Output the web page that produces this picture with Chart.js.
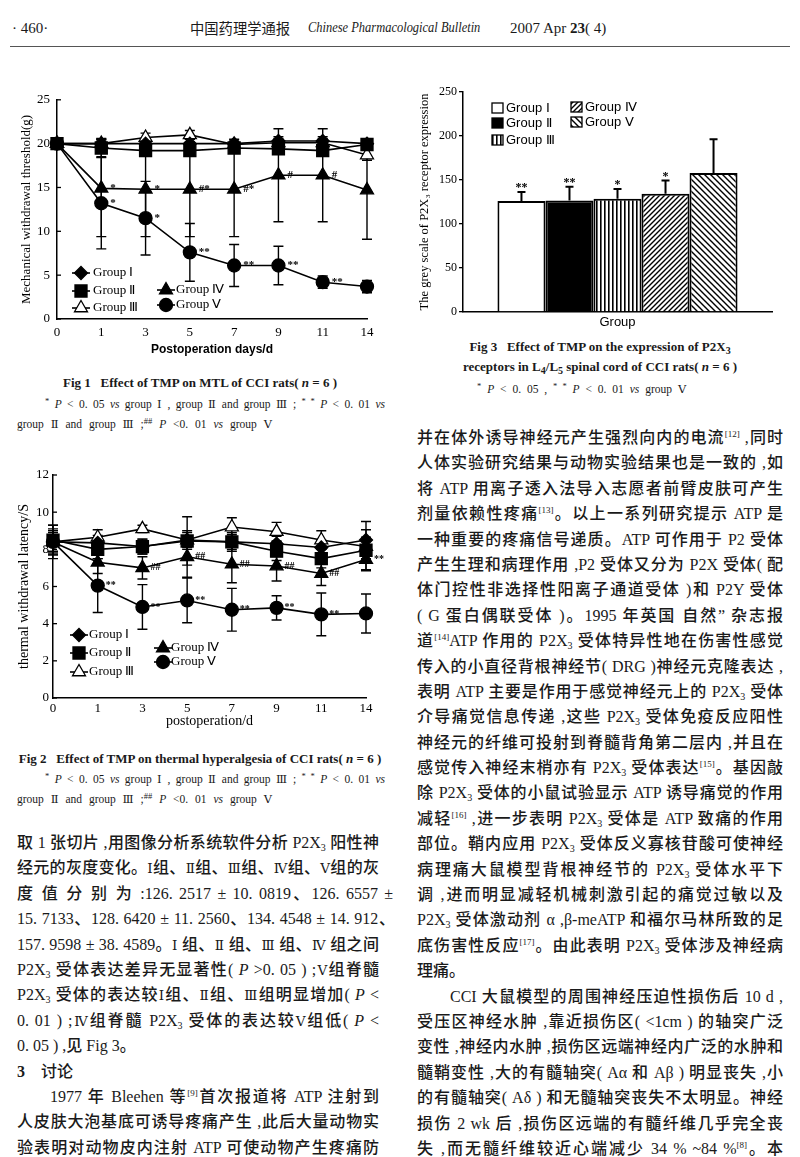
<!DOCTYPE html>
<html><head><meta charset="utf-8">
<script src="https://cdn.jsdelivr.net/npm/chart.js@4/dist/chart.umd.min.js"></script>
<style>
html,body{margin:0;padding:0;background:#fff;}
body{width:800px;height:1157px;position:relative;overflow:hidden;font-family:"Liberation Serif","Noto Sans CJK SC",serif;color:#1a1a1a;}
.abs{position:absolute;white-space:nowrap;}
canvas{position:absolute;}
.col{position:absolute;font-size:16px;line-height:25.4px;font-weight:500;}
.col div{height:25.4px;white-space:nowrap;text-align:justify;text-align-last:justify;}
.col div.l{text-align:left;text-align-last:left;}
.col div.ind{padding-left:33px;}
.rn{font-family:"DejaVu Serif","DejaVu Sans","Liberation Serif";font-size:0.85em;}
sup{font-size:9px;position:relative;top:-6px;vertical-align:baseline;line-height:0;}
sub{font-size:10px;position:relative;top:3px;vertical-align:baseline;line-height:0;}
.cap{position:absolute;line-height:16px;white-space:nowrap;}
.capb{font-weight:bold;font-size:13px;text-align:center;}
.fn{font-size:11.5px;word-spacing:2px;}
.fn .rn{font-size:1em;}
.fn sup{font-size:8.5px;top:-4px;}
.just{text-align:justify;text-align-last:justify;}
</style>
</head><body>

<div class="abs" style="left:12px;top:19px;font-size:15px;line-height:18px;">·&nbsp;460·</div>
<div class="abs" style="left:190px;top:19px;font-size:14.3px;line-height:18px;font-family:'Noto Sans CJK SC';">中国药理学通报</div>
<div class="abs" style="left:308px;top:19px;font-size:14px;line-height:18px;transform:scaleX(0.89);transform-origin:0 50%;"><i>Chinese Pharmacological Bulletin</i></div>
<div class="abs" style="left:510px;top:19px;font-size:15px;line-height:18px;">2007 Apr <b>23</b>( 4)</div>
<div class="abs" style="left:10px;top:46px;width:780px;height:1px;background:#555;"></div>

<canvas id="c1" width="400" height="272" style="left:0px;top:85px;"></canvas>
<canvas id="c3" width="400" height="252" style="left:400px;top:80px;"></canvas>
<canvas id="c2" width="400" height="268" style="left:0px;top:462px;"></canvas>

<div class="cap capb" style="left:0;width:400px;top:375px;">Fig 1&nbsp;&nbsp;&nbsp;Effect of TMP on MTL of CCI rats( <i>n</i> = 6 )</div>
<div class="cap fn just" style="left:45px;width:340px;top:396px;"><sup>*</sup> <i>P</i> &lt; 0. 05 <i>vs</i> group <span class="rn">Ⅰ</span> , group <span class="rn">Ⅱ</span> and group <span class="rn">Ⅲ</span> ; <sup>* *</sup> <i>P</i> &lt; 0. 01 <i>vs</i></div>
<div class="cap fn" style="left:17px;top:416px;word-spacing:4px;">group <span class="rn">Ⅱ</span> and group <span class="rn">Ⅲ</span> ;<sup>##</sup> <i>P</i> &lt;0. 01 <i>vs</i> group <span class="rn">Ⅴ</span></div>

<div class="cap capb" style="left:0;width:400px;top:751px;">Fig 2&nbsp;&nbsp;&nbsp;Effect of TMP on thermal hyperalgesia of CCI rats( <i>n</i> = 6 )</div>
<div class="cap fn just" style="left:45px;width:340px;top:771px;"><sup>*</sup> <i>P</i> &lt; 0. 05 <i>vs</i> group <span class="rn">Ⅰ</span> , group <span class="rn">Ⅱ</span> and group <span class="rn">Ⅲ</span> ; <sup>* *</sup> <i>P</i> &lt; 0. 01 <i>vs</i></div>
<div class="cap fn" style="left:17px;top:791px;word-spacing:4px;">group <span class="rn">Ⅱ</span> and group <span class="rn">Ⅲ</span> ;<sup>##</sup> <i>P</i> &lt;0. 01 <i>vs</i> group <span class="rn">Ⅴ</span></div>

<div class="cap capb" style="left:400px;width:400px;top:339px;">Fig 3&nbsp;&nbsp;&nbsp;Effect of TMP on the expression of P2X<sub>3</sub></div>
<div class="cap capb" style="left:400px;width:400px;top:359px;">receptors in L<sub>4</sub>/L<sub>5</sub> spinal cord of CCI rats( <i>n</i> = 6 )</div>
<div class="cap fn" style="left:477px;top:381px;word-spacing:3px;"><sup>*</sup> <i>P</i> &lt; 0. 05 , <sup>* *</sup> <i>P</i> &lt; 0. 01 <i>vs</i> group <span class="rn">Ⅴ</span></div>

<div class="col" style="left:417px;width:366px;top:425px;">
<div>并在体外诱导神经元产生强烈向内的电流<sup>[12]</sup> ,同时</div>
<div>人体实验研究结果与动物实验结果也是一致的 ,如</div>
<div>将 ATP 用离子透入法导入志愿者前臂皮肤可产生</div>
<div>剂量依赖性疼痛<sup>[13]</sup>。以上一系列研究提示 ATP 是</div>
<div>一种重要的疼痛信号递质。ATP 可作用于 P2 受体</div>
<div>产生生理和病理作用 ,P2 受体又分为 P2X 受体( 配</div>
<div>体门控性非选择性阳离子通道受体 )和 P2Y 受体</div>
<div>( G 蛋白偶联受体 )。1995 年英国 自然” 杂志报</div>
<div>道<sup>[14]</sup>ATP 作用的 P2X<sub>3</sub> 受体特异性地在伤害性感觉</div>
<div>传入的小直径背根神经节( DRG )神经元克隆表达 ,</div>
<div>表明 ATP 主要是作用于感觉神经元上的 P2X<sub>3</sub> 受体</div>
<div>介导痛觉信息传递 ,这些 P2X<sub>3</sub> 受体免疫反应阳性</div>
<div>神经元的纤维可投射到脊髓背角第二层内 ,并且在</div>
<div>感觉传入神经末梢亦有 P2X<sub>3</sub> 受体表达<sup>[15]</sup>。基因敲</div>
<div>除 P2X<sub>3</sub> 受体的小鼠试验显示 ATP 诱导痛觉的作用</div>
<div>减轻<sup>[16]</sup> ,进一步表明 P2X<sub>3</sub> 受体是 ATP 致痛的作用</div>
<div>部位。鞘内应用 P2X<sub>3</sub> 受体反义寡核苷酸可使神经</div>
<div>病理痛大鼠模型背根神经节的 P2X<sub>3</sub> 受体水平下</div>
<div>调 ,进而明显减轻机械刺激引起的痛觉过敏以及</div>
<div>P2X<sub>3</sub> 受体激动剂 α ,β-meATP 和福尔马林所致的足</div>
<div>底伤害性反应<sup>[17]</sup>。由此表明 P2X<sub>3</sub> 受体涉及神经病</div>
<div class="l">理痛。</div>
<div class="ind">CCI 大鼠模型的周围神经压迫性损伤后 10 d ,</div>
<div>受压区神经水肿 ,靠近损伤区( &lt;1cm ) 的轴突广泛</div>
<div>变性 ,神经内水肿 ,损伤区远端神经内广泛的水肿和</div>
<div>髓鞘变性 ,大的有髓轴突( Aα 和 Aβ ) 明显丧失 ,小</div>
<div>的有髓轴突( Aδ ) 和无髓轴突丧失不太明显。神经</div>
<div>损伤 2 wk 后 ,损伤区远端的有髓纤维几乎完全丧</div>
<div>失 ,而无髓纤维较近心端减少 34 % ~84 %<sup>[8]</sup>。本</div>
</div>

<div class="col" style="left:17px;width:362px;top:830px;">
<div>取 1 张切片 ,用图像分析系统软件分析 P2X<sub>3</sub> 阳性神</div>
<div>经元的灰度变化。<span class="rn">Ⅰ</span>组、<span class="rn">Ⅱ</span>组、<span class="rn">Ⅲ</span>组、<span class="rn">Ⅳ</span>组、<span class="rn">Ⅴ</span>组的灰</div>
<div style="width:376px">度 值 分 别 为 :126. 2517 ± 10. 0819、126. 6557 ±</div>
<div style="width:378px">15. 7133、128. 6420 ± 11. 2560、134. 4548 ± 14. 912、</div>
<div>157. 9598 ± 38. 4589。<span class="rn">Ⅰ</span> 组、<span class="rn">Ⅱ</span> 组、<span class="rn">Ⅲ</span> 组、<span class="rn">Ⅳ</span> 组之间</div>
<div>P2X<sub>3</sub> 受体表达差异无显著性( <i>P</i> &gt;0. 05 ) ;<span class="rn">Ⅴ</span>组脊髓</div>
<div>P2X<sub>3</sub> 受体的表达较<span class="rn">Ⅰ</span>组、<span class="rn">Ⅱ</span>组、<span class="rn">Ⅲ</span>组明显增加( <i>P</i> &lt;</div>
<div>0. 01 ) ;<span class="rn">Ⅳ</span>组脊髓 P2X<sub>3</sub> 受体的表达较<span class="rn">Ⅴ</span>组低( <i>P</i> &lt;</div>
<div class="l">0. 05 ) ,见 Fig 3。</div>
<div class="l"><b>3</b>&nbsp;&nbsp;&nbsp;&nbsp;讨论</div>
<div class="ind">1977 年 Bleehen 等<sup>[9]</sup>首次报道将 ATP 注射到</div>
<div>人皮肤大泡基底可诱导疼痛产生 ,此后大量动物实</div>
<div>验表明对动物皮内注射 ATP 可使动物产生疼痛防</div>
</div>

<script>
// ---------------- DATA ----------------
const dayLabels = ['0', '1', '3', '5', '7', '9', '11', '14'];
const groupNames = ['Group Ⅰ', 'Group Ⅱ', 'Group Ⅲ', 'Group Ⅳ', 'Group Ⅴ'];

// Fig 1: mechanical withdrawal threshold (g)
const mtlI   = [20, 20, 20, 20, 20, 20.3, 20.3, 20];
const mtlII  = [20, 19.5, 19.2, 19.2, 19.5, 19.4, 19.2, 19.9];
const mtlIII = [20, 20, 20.7, 21, 19.9, 20.1, 20.1, 18.7];
const mtlIV  = [20, 14.9, 14.8, 14.8, 14.8, 16.4, 16.4, 14.7];
const mtlV   = [20, 13.2, 11.5, 7.6, 6.1, 6.1, 4.2, 3.7];
const mtlIErr   = [0, 0.6, 0.5, 0.5, 0.5, 0.5, 0.5, 0.4];
const mtlIIErr  = [0, 1.0, 0.6, 0.6, 0.6, 0.6, 0.6, 0.4];
const mtlIIIErr = [0, 0.5, 0.5, 0.5, 0.5, 0.5, 0.5, 0.6];
const mtlIVErr  = [0, 5.5, 5.4, 5.4, 5.4, 5.3, 5.3, 5.6];
const mtlVErr   = [0, 5.2, 4.2, 3.3, 2.4, 2.2, 0.7, 0.7];
const mtlIVMarks = ['', '*', '*', '#*', '#*', '#', '#', ''];
const mtlVMarks  = ['', '*', '*', '**', '**', '**', '**', ''];

// Fig 2: thermal withdrawal latency (s)
const twlI   = [8.4, 8.35, 8.15, 8.5, 8.4, 8.3, 8.1, 8.5];
const twlII  = [8.5, 8.0, 8.15, 8.45, 8.4, 7.9, 7.5, 7.95];
const twlIII = [8.4, 8.65, 9.1, 8.5, 9.2, 8.95, 8.5, 8.15];
const twlIV  = [8.4, 7.3, 7.0, 7.6, 7.2, 7.1, 6.7, 7.45];
const twlV   = [8.4, 6.05, 4.9, 5.25, 4.75, 4.85, 4.5, 4.55];
const twlIErr   = [0.9, 0.4, 0.4, 0.5, 0.4, 0.4, 0.4, 1.0];
const twlIIErr  = [0.8, 0.5, 0.4, 1.3, 0.5, 0.5, 0.5, 1.1];
const twlIIIErr = [0.7, 0.4, 0.2, 0.4, 0.5, 0.5, 0.5, 0.5];
const twlIVErr  = [0.5, 0.6, 0.6, 1.1, 1.0, 0.8, 0.65, 0.55];
const twlVErr   = [0.6, 1.45, 1.2, 1.2, 1.15, 0.65, 1.15, 1.05];
const twlIVMarks = ['', '', '##', '##', '##', '##', '##', '**'];
const twlVMarks  = ['', '**', '**', '**', '**', '**', '**', ''];

// Fig 3: grey scale of P2X3 receptor expression
const barCategory = ['Group'];
const p2x3Means = [126.2517, 126.6557, 128.6420, 134.4548, 157.9598];
const p2x3SD    = [10.0819, 15.7133, 11.2560, 14.912, 38.4589];
const p2x3Marks = ['**', '**', '*', '*', ''];

// ---------------- STYLES ----------------
const lineStyles = [
  {pointStyle: 'rectRot', radius: 6.5, bg: '#000'},
  {pointStyle: 'rect', radius: 8.5, bg: '#000'},
  {pointStyle: 'triangle', radius: 7.5, bg: '#fff'},
  {pointStyle: 'triangle', radius: 7.5, bg: '#000'},
  {pointStyle: 'circle', radius: 6.5, bg: '#000'}
];

function buildLines(vals, errs, marks) {
  return vals.map((v, i) => ({
    label: groupNames[i],
    data: v,
    errors: errs[i],
    marks: marks[i],
    borderColor: '#000',
    borderWidth: 1.6,
    pointStyle: lineStyles[i].pointStyle,
    pointRadius: lineStyles[i].radius,
    pointBackgroundColor: lineStyles[i].bg,
    pointBorderColor: '#000',
    pointBorderWidth: 1.3,
    tension: 0,
    fill: false
  }));
}

function makePattern(kind) {
  const s = kind === 'v' ? 4 : (kind === 'f' ? 5 : 6);
  const c = document.createElement('canvas');
  c.width = s; c.height = s;
  const g = c.getContext('2d');
  g.fillStyle = '#fff'; g.fillRect(0, 0, s, s);
  g.strokeStyle = '#000'; g.fillStyle = '#000'; g.lineWidth = 1.4;
  if (kind === 'v') {
    g.fillRect(0, 0, 1.6, s);
  } else if (kind === 'f') {
    g.beginPath();
    g.moveTo(-1, s + 1); g.lineTo(s + 1, -1);
    g.moveTo(-1, 1); g.lineTo(1, -1);
    g.moveTo(s - 1, s + 1); g.lineTo(s + 1, s - 1);
    g.stroke();
  } else {
    g.beginPath();
    g.moveTo(-1, -1); g.lineTo(s + 1, s + 1);
    g.moveTo(s - 1, -1); g.lineTo(s + 1, 1);
    g.moveTo(-1, s - 1); g.lineTo(1, s + 1);
    g.stroke();
  }
  return g.createPattern(c, 'repeat');
}

// ---------------- PLUGINS ----------------
const errPlugin = {
  id: 'errBars',
  beforeDatasetsDraw(chart, a, o) { if (o.mode !== 'up') drawErr(chart, o); },
  afterDatasetsDraw(chart, a, o) { if (o.mode === 'up') drawErr(chart, o); }
};
function drawErr(chart, o) {
  const ctx = chart.ctx, ys = chart.scales.y;
  chart.data.datasets.forEach((ds, i) => {
    if (!ds.errors) return;
    const meta = chart.getDatasetMeta(i);
    ctx.save();
    ctx.strokeStyle = '#000'; ctx.lineWidth = o.width;
    meta.data.forEach((el, j) => {
      const e = ds.errors[j];
      if (!e) return;
      const v = ds.data[j];
      const x = el.x;
      const yt = ys.getPixelForValue(v + e);
      const yb = o.mode === 'up' ? el.y : ys.getPixelForValue(v - e);
      ctx.beginPath();
      ctx.moveTo(x, yb); ctx.lineTo(x, yt);
      ctx.moveTo(x - o.cap, yt); ctx.lineTo(x + o.cap, yt);
      if (o.mode !== 'up') { ctx.moveTo(x - o.cap, yb); ctx.lineTo(x + o.cap, yb); }
      ctx.stroke();
    });
    ctx.restore();
  });
}

const marksPlugin = {
  id: 'marks',
  afterDatasetsDraw(chart, a, o) {
    const ctx = chart.ctx, ys = chart.scales.y;
    ctx.save();
    ctx.fillStyle = '#000'; ctx.font = o.font;
    chart.data.datasets.forEach((ds, i) => {
      if (!ds.marks) return;
      const meta = chart.getDatasetMeta(i);
      meta.data.forEach((el, j) => {
        const m = ds.marks[j];
        if (!m) return;
        if (o.above) {
          const top = ys.getPixelForValue(ds.data[j] + (ds.errors ? ds.errors[j] : 0));
          ctx.textAlign = 'center'; ctx.textBaseline = 'alphabetic';
          ctx.fillText(m, el.x, top + o.dy);
        } else {
          ctx.textAlign = 'left'; ctx.textBaseline = 'middle';
          ctx.fillText(m, el.x + o.dx, el.y + o.dy);
        }
      });
    });
    ctx.restore();
  }
};

const legendPlugin = {
  id: 'customLegend',
  afterDraw(chart, a, o) {
    const ctx = chart.ctx;
    ctx.save();
    ctx.font = o.font; ctx.textBaseline = 'middle'; ctx.textAlign = 'left';
    o.items.forEach(it => {
      const ds = chart.data.datasets[it.ds];
      if (o.kind === 'box') {
        ctx.fillStyle = ds.backgroundColor;
        ctx.fillRect(it.x, it.y - o.h / 2, o.w, o.h);
        ctx.strokeStyle = '#000'; ctx.lineWidth = 1.3;
        ctx.strokeRect(it.x, it.y - o.h / 2, o.w, o.h);
      } else {
        ctx.strokeStyle = '#000'; ctx.lineWidth = ds.borderWidth;
        ctx.beginPath(); ctx.moveTo(it.x - o.seg, it.y); ctx.lineTo(it.x + o.seg, it.y); ctx.stroke();
        ctx.fillStyle = ds.pointBackgroundColor; ctx.lineWidth = ds.pointBorderWidth;
        Chart.helpers.drawPoint(ctx, {pointStyle: ds.pointStyle, radius: ds.pointRadius, rotation: 0, borderWidth: ds.pointBorderWidth}, it.x, it.y);
      }
      ctx.fillStyle = '#000';
      ctx.fillText(ds.label, it.tx, it.y + (o.tdy || 0));
    });
    ctx.restore();
  }
};

const inTicks = {
  id: 'inTicks',
  afterDraw(chart, a, o) {
    const ys = chart.scales.y, ctx = chart.ctx;
    ctx.save(); ctx.strokeStyle = '#000'; ctx.lineWidth = 1.3;
    ys.ticks.forEach((t, i) => {
      const p = ys.getPixelForTick(i);
      ctx.beginPath(); ctx.moveTo(ys.right, p); ctx.lineTo(ys.right + o.len, p); ctx.stroke();
    });
    ctx.restore();
  }
};

const SERIF = 'Liberation Serif';
const SANS = 'Liberation Sans';
const axisBorder = {display: true, color: '#000', width: 1.5};
const noGrid = {display: false, drawTicks: false, drawOnChartArea: false};

function lineOptions(p) {
  return {
    responsive: false, animation: false, devicePixelRatio: 1,
    layout: {padding: p.padding},
    plugins: {
      legend: {display: false}, tooltip: {enabled: false},
      errBars: {mode: 'both', width: 1.4, cap: 5},
      marks: {dx: p.markDx, dy: 0, font: p.markFont},
      customLegend: {font: p.legendFont, seg: 9, items: p.legendItems},
      inTicks: {len: 4}
    },
    scales: {
      x: {
        type: 'category', offset: false,
        grid: noGrid, border: axisBorder,
        ticks: {color: '#000', font: {family: SERIF, size: p.tickSize}, padding: p.xPad, maxRotation: 0, autoSkip: false},
        title: {display: true, text: p.xTitle, color: '#000', font: p.xTitleFont, padding: 0},
        afterFit: s => { s.height = p.xH; }
      },
      y: {
        min: p.yMin, max: p.yMax,
        grid: noGrid, border: axisBorder,
        ticks: {stepSize: p.yStep, color: '#000', font: {family: SERIF, size: p.tickSize}, padding: p.yPad},
        title: {display: true, text: p.yTitle, color: '#000', font: {family: SERIF, size: p.yTitleSize}, padding: {top: p.yTitlePad, bottom: 0}},
        afterFit: s => { s.width = p.yW; }
      }
    }
  };
}

function init() {
  // Fig 1
  new Chart(document.getElementById('c1'), {
    type: 'line',
    data: {labels: dayLabels,
      datasets: buildLines([mtlI, mtlII, mtlIII, mtlIV, mtlV],
        [mtlIErr, mtlIIErr, mtlIIIErr, mtlIVErr, mtlVErr],
        [null, null, null, mtlIVMarks, mtlVMarks])},
    options: lineOptions({
      padding: {left: 0, right: 33, top: 13, bottom: 0},
      yW: 57, xH: 38, yMin: 0, yMax: 25, yStep: 5, tickSize: 13, xPad: 6, yPad: 7,
      xTitle: 'Postoperation days/d', xTitleFont: {family: SANS, size: 12, weight: 'bold'},
      yTitle: 'Mechanical withdrawal threshold(g)', yTitleSize: 13, yTitlePad: 19,
      markDx: 9, markFont: 'bold 11px "Liberation Serif"',
      legendFont: '13px "Liberation Serif"',
      legendItems: [
        {ds: 0, x: 81, y: 188, tx: 93}, {ds: 1, x: 81, y: 206, tx: 93}, {ds: 2, x: 81, y: 223, tx: 93},
        {ds: 3, x: 166, y: 205, tx: 176}, {ds: 4, x: 166, y: 220, tx: 176}
      ]
    }),
    plugins: [errPlugin, marksPlugin, legendPlugin, inTicks]
  });

  // Fig 2
  new Chart(document.getElementById('c2'), {
    type: 'line',
    data: {labels: dayLabels,
      datasets: buildLines([twlI, twlII, twlIII, twlIV, twlV],
        [twlIErr, twlIIErr, twlIIIErr, twlIVErr, twlVErr],
        [null, null, null, twlIVMarks, twlVMarks])},
    options: lineOptions({
      padding: {left: 0, right: 34, top: 13, bottom: 0},
      yW: 53, xH: 32, yMin: 0, yMax: 12, yStep: 2, tickSize: 13, xPad: 3, yPad: 4,
      xTitle: 'postoperation/d', xTitleFont: {family: SERIF, size: 14},
      yTitle: 'thermal withdrawal latency/S', yTitleSize: 14, yTitlePad: 16,
      markDx: 8, markFont: 'bold 10px "Liberation Serif"',
      legendFont: '13px "Liberation Serif"',
      legendItems: [
        {ds: 0, x: 79, y: 173, tx: 89}, {ds: 1, x: 79, y: 191, tx: 89}, {ds: 2, x: 79, y: 210, tx: 89},
        {ds: 3, x: 163, y: 186, tx: 171}, {ds: 4, x: 163, y: 200, tx: 171}
      ]
    }),
    plugins: [errPlugin, marksPlugin, legendPlugin, inTicks]
  });

  // Fig 3
  const fills = ['#fff', '#000', makePattern('v'), makePattern('f'), makePattern('b')];
  new Chart(document.getElementById('c3'), {
    type: 'bar',
    data: {labels: barCategory,
      datasets: p2x3Means.map((m, i) => ({
        label: groupNames[i], data: [m], errors: [p2x3SD[i]], marks: [p2x3Marks[i]],
        backgroundColor: fills[i], borderColor: '#000', borderWidth: 2,
        categoryPercentage: 0.777, barPercentage: 1
      }))},
    options: {
      responsive: false, animation: false, devicePixelRatio: 1,
      layout: {padding: {left: 0, right: 28, top: 12, bottom: 0}},
      plugins: {
        legend: {display: false}, tooltip: {enabled: false},
        errBars: {mode: 'up', width: 2, cap: 4},
        marks: {above: true, dy: -1, font: 'bold 12px "Liberation Serif"'},
        customLegend: {kind: 'box', w: 11, h: 10, font: '13px "Liberation Sans"', items: [
          {ds: 0, x: 92, y: 28, tx: 106}, {ds: 1, x: 92, y: 43, tx: 106}, {ds: 2, x: 92, y: 60, tx: 106},
          {ds: 3, x: 171, y: 27, tx: 185}, {ds: 4, x: 171, y: 42, tx: 185}
        ]}
      },
      scales: {
        x: {
          grid: noGrid, border: axisBorder,
          ticks: {color: '#000', font: {family: SANS, size: 13}, padding: 3},
          afterFit: s => { s.height = 20; }
        },
        y: {
          min: 0, max: 250,
          grid: {display: true, drawOnChartArea: false, drawTicks: true, tickLength: 4, color: '#000', lineWidth: 1.3},
          border: axisBorder,
          ticks: {stepSize: 50, color: '#000', font: {family: SERIF, size: 12}, padding: 2},
          title: {display: true, text: 'The grey scale of P2X₃ receptor expression', color: '#000', font: {family: SERIF, size: 12.5}, padding: {top: 17, bottom: 0}},
          afterFit: s => { s.width = 63; }
        }
      }
    },
    plugins: [errPlugin, marksPlugin, legendPlugin]
  });
}
window.addEventListener('load', init);
</script>
</body></html>
